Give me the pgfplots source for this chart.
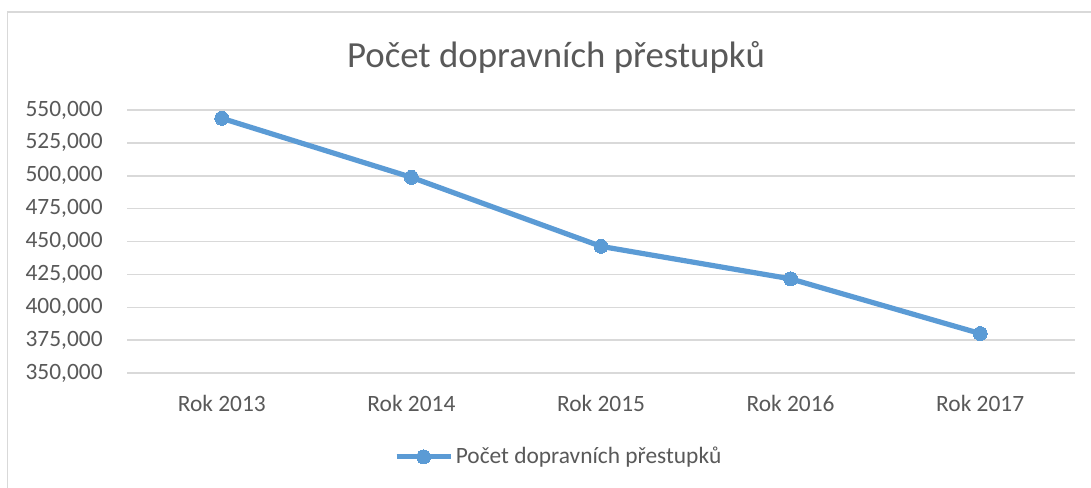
\documentclass[border=0pt]{standalone}
\usepackage{fontspec}
\setmainfont{Carlito}
\usepackage{pgfplots}
\pgfplotsset{compat=1.18}
\definecolor{gridc}{HTML}{D9D9D9}
\definecolor{txt}{HTML}{595959}
\definecolor{ser}{HTML}{5B9BD5}
\begin{document}
\begin{tikzpicture}
\useasboundingbox (0,0) rectangle (545.5pt,243.5pt);
\fill[white] (0,0) rectangle (545.5pt,243.5pt);
\draw[gridc, line width=0.75pt] (3.75pt,-1pt) -- (3.75pt,237.5pt) -- (547pt,237.5pt);
\node[anchor=base, text=txt, font=\fontsize{18.4}{22}\selectfont, inner sep=0pt] at (278pt,209.5pt) {Počet dopravních přestupků};
\begin{axis}[
  at={(63.5pt,57pt)}, anchor=south west,
  scale only axis, width=474pt, height=131.5pt,
  xmin=-0.5, xmax=4.5, ymin=350000, ymax=550000,
  xtick={0,1,2,3,4},
  xticklabels={Rok 2013,Rok 2014,Rok 2015,Rok 2016,Rok 2017},
  ytick={350000,375000,...,550000},
  axis line style={draw=none},
  major tick length=0pt,
  ymajorgrids, xmajorgrids=false,
  grid style={draw=gridc, line width=0.75pt},
  /pgf/number format/assume math mode=true,
  /pgf/number format/fixed,
  /pgf/number format/1000 sep={,},
  scaled y ticks=false,
  ticklabel style={text=txt, font=\fontsize{11.7}{13.5}\selectfont},
  yticklabel style={inner sep=0pt, xshift=-12pt},
  xticklabel style={inner sep=0pt, yshift=-10.7pt},
  clip=false,
  legend style={at={(0.4557,-0.319)}, anchor=center, draw=none, fill=none,
    font=\fontsize{11.7}{13.5}\selectfont, text=txt, inner sep=0pt,
    nodes={inner sep=1.25pt}},
  legend image code/.code={\draw[mark repeat=2,mark phase=2,#1] plot coordinates {(0pt,0pt)(13.5pt,0pt)(27pt,0pt)};},
]
\addplot[ser, line width=2.6pt, mark=*, mark size=3.5pt, mark options={fill=ser, draw=ser, line width=0pt}]
  coordinates {(0,543700) (1,498800) (2,446300) (3,421600) (4,380000)};
\addlegendentry{Počet dopravních přestupků}
\end{axis}
\end{tikzpicture}
\end{document}
